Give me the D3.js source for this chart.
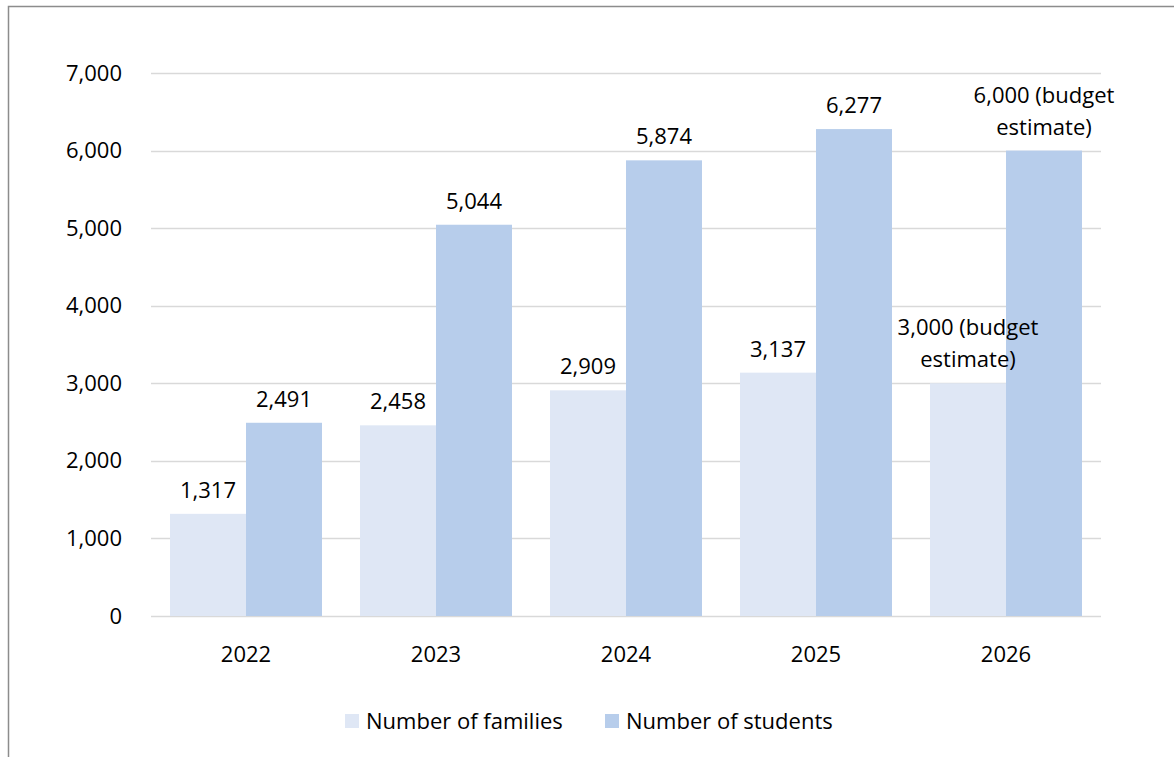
<!DOCTYPE html>
<html>
<head>
<meta charset="utf-8">
<script src="https://cdn.jsdelivr.net/npm/d3@7"></script>
<style>
  body { margin: 0; background: #fff; }
  text { font-family: "Open Sans", "Noto Sans", sans-serif; fill: #000; }
</style>
</head>
<body>
<div id="chart"></div>
<script>
const years = ['2022', '2023', '2024', '2025', '2026'];
const families = [1317, 2458, 2909, 3137, 3000];
const students = [2491, 5044, 5874, 6277, 6000];
const familyLabels = [['1,317'], ['2,458'], ['2,909'], ['3,137'], ['3,000 (budget', 'estimate)']];
const studentLabels = [['2,491'], ['5,044'], ['5,874'], ['6,277'], ['6,000 (budget', 'estimate)']];
const seriesNames = ['Number of families', 'Number of students'];
const yTicks = [0, 1000, 2000, 3000, 4000, 5000, 6000, 7000];

const width = 1174, height = 757;
const colors = ['#dfe7f5', '#b7cdeb'];
const fontSize = 22;
const margin = { left: 151, right: 73, top: 73, bottom: 141 };

const svg = d3.select('#chart').append('svg')
    .attr('width', width)
    .attr('height', height);

// outer chart frame (only top and left edges show)
svg.append('path')
    .attr('d', `M8.5,${height} V6.5 H${width}`)
    .attr('fill', 'none')
    .attr('stroke', '#8c8c8c')
    .attr('stroke-width', 1.5);

const x = d3.scaleBand()
    .domain(years)
    .range([margin.left, width - margin.right])
    .paddingInner(0.2)
    .paddingOuter(0.1);

const xSub = d3.scaleBand()
    .domain([0, 1])
    .range([0, x.bandwidth()]);

const y = d3.scaleLinear()
    .domain([0, 7000])
    .range([height - margin.bottom, margin.top]);

// gridlines
svg.append('g')
    .selectAll('line')
    .data(yTicks)
    .join('line')
    .attr('x1', margin.left)
    .attr('x2', width - margin.right)
    .attr('y1', d => Math.round(y(d)) + 0.5)
    .attr('y2', d => Math.round(y(d)) + 0.5)
    .attr('stroke', '#d9d9d9')
    .attr('stroke-width', 1.5);

// y axis labels
const yAxis = svg.append('g')
    .attr('transform', `translate(${margin.left - 26},0)`)
    .call(d3.axisLeft(y).tickValues(yTicks).tickFormat(d3.format(',')).tickSize(0));
yAxis.select('.domain').remove();
yAxis.selectAll('text')
    .attr('font-size', fontSize)
    .attr('font-family', '"Open Sans", "Noto Sans", sans-serif')
    .attr('fill', '#000')
    .attr('dx', 0);

// x axis labels
const xAxis = svg.append('g')
    .attr('transform', `translate(0,${y(0) + 27})`)
    .call(d3.axisBottom(x).tickSize(0));
xAxis.select('.domain').remove();
xAxis.selectAll('text')
    .attr('font-size', fontSize)
    .attr('font-family', '"Open Sans", "Noto Sans", sans-serif')
    .attr('fill', '#000');

// bars first, then labels on top
const series = [families, students];
const labels = [familyLabels, studentLabels];
series.forEach((vals, s) => {
    svg.append('g')
        .selectAll('rect')
        .data(vals)
        .join('rect')
        .attr('x', (d, i) => x(years[i]) + xSub(s))
        .attr('width', xSub.bandwidth())
        .attr('y', d => y(d))
        .attr('height', d => y(0) - y(d))
        .attr('fill', colors[s]);
});

series.forEach((vals, s) => {
    const lbl = svg.append('g')
        .selectAll('text')
        .data(vals)
        .join('text')
        .attr('text-anchor', 'middle')
        .attr('font-size', fontSize)
        .attr('x', (d, i) => x(years[i]) + xSub(s) + xSub.bandwidth() / 2)
        .attr('y', (d, i) => y(d) - 16 - (labels[s][i].length - 1) * 32);
    lbl.each(function(d, i) {
        const t = d3.select(this);
        const xx = t.attr('x');
        labels[s][i].forEach((line, k) => {
            t.append('tspan').attr('x', xx).attr('dy', k === 0 ? 0 : 32).text(line);
        });
    });
});

// legend
const legendItems = [
    { name: seriesNames[0], x: 345 },
    { name: seriesNames[1], x: 605 }
];
const legend = svg.append('g').attr('transform', 'translate(0,721)');
legendItems.forEach((item, i) => {
    legend.append('rect')
        .attr('x', item.x)
        .attr('y', -7)
        .attr('width', 14)
        .attr('height', 14)
        .attr('fill', colors[i]);
    legend.append('text')
        .attr('x', item.x + 21)
        .attr('y', 8)
        .attr('font-size', fontSize)
        .text(item.name);
});
</script>
</body>
</html>
